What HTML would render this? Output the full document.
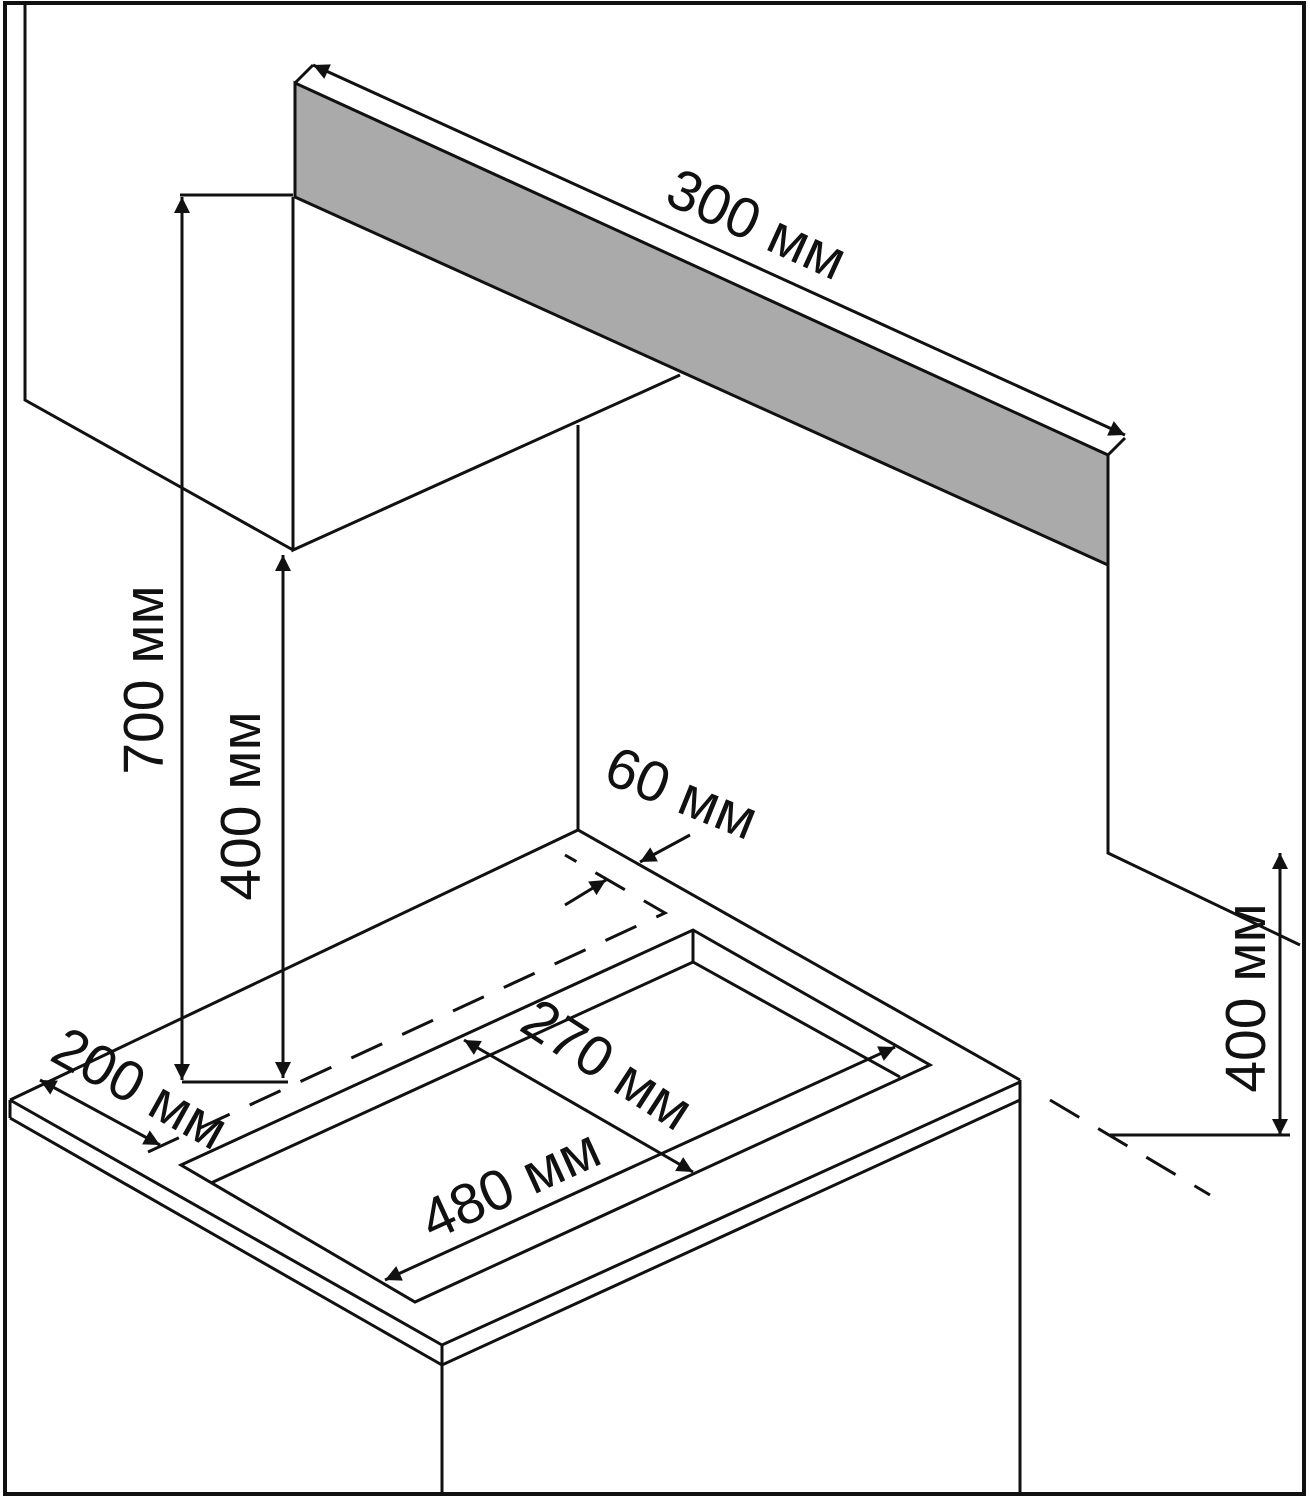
<!DOCTYPE html>
<html><head><meta charset="utf-8"><style>
html,body{margin:0;padding:0;background:#fff}
svg{display:block}
text{font-family:"Liberation Sans","DejaVu Sans",sans-serif;font-size:57px;fill:#111}
</style></head><body>
<svg width="1310" height="1500" viewBox="0 0 1310 1500" xmlns="http://www.w3.org/2000/svg">
<defs>
<marker id="b" viewBox="0 0 10 10" refX="10" refY="5" markerWidth="26" markerHeight="16" markerUnits="userSpaceOnUse" orient="auto-start-reverse">
<path d="M0,0 L10,5 L0,10 z" fill="#111"/></marker>
</defs>
<rect x="5" y="3" width="1299" height="1491" fill="none" stroke="#111" stroke-width="4"/>
<g stroke="#111" stroke-width="3" fill="none" stroke-linejoin="miter">
<polyline points="25,3 25,400 293,550"/>
<polyline points="293,197 293,550 680,375"/>
<line x1="578" y1="425" x2="578" y2="830"/>
<polygon points="295,83 1108,455 1108,565 295,197" fill="#aaaaaa"/>
<polyline points="295,83 313,65"/>
<line x1="1108" y1="455" x2="1125" y2="438"/>
<polyline points="1108,565 1108,853 1300,945"/>
<polyline points="10,1100 578,830 1020,1080"/>
<polyline points="10,1100 442,1345 1020,1082"/>
<polyline points="10,1118 442,1365 1020,1100"/>
<line x1="10" y1="1100" x2="10" y2="1118"/>
<line x1="442" y1="1345" x2="442" y2="1495"/>
<line x1="1020" y1="1080" x2="1020" y2="1495"/>
<polygon points="181,1165 693,930 930,1065 415,1302"/>
<polyline points="211,1183 693,962 900,1077"/>
<line x1="693" y1="930" x2="693" y2="962"/>
<g stroke-dasharray="34,22">
<polyline points="148,1152 665,913 565,855"/>
<line x1="1050" y1="1100" x2="1210" y2="1195"/>
</g>
<line x1="180" y1="195" x2="293" y2="195"/>
<line x1="182" y1="1082" x2="288" y2="1082"/>
<line x1="1110" y1="1135" x2="1290" y2="1135"/>
</g>
<g stroke="#111" stroke-width="3" fill="none">
<line x1="182" y1="197" x2="182" y2="1080" marker-start="url(#b)" marker-end="url(#b)"/>
<line x1="283" y1="555" x2="283" y2="1078" marker-start="url(#b)" marker-end="url(#b)"/>
<line x1="1280" y1="853" x2="1280" y2="1135" marker-start="url(#b)" marker-end="url(#b)"/>
<line x1="313" y1="65" x2="1125" y2="435" marker-start="url(#b)" marker-end="url(#b)"/>
<line x1="385" y1="1280" x2="895" y2="1047" marker-start="url(#b)" marker-end="url(#b)"/>
<line x1="464" y1="1040" x2="693" y2="1172" marker-start="url(#b)" marker-end="url(#b)"/>
<line x1="40" y1="1080" x2="160" y2="1145" marker-start="url(#b)" marker-end="url(#b)"/>
<line x1="690" y1="835" x2="640" y2="862" marker-end="url(#b)"/>
<line x1="565" y1="905" x2="606" y2="880" marker-end="url(#b)"/>
</g>
<text transform="translate(755,228) rotate(24.5)" text-anchor="middle" dominant-baseline="middle">300 мм</text>
<text transform="translate(148,680) rotate(-90)" text-anchor="middle" dominant-baseline="middle">700 мм</text>
<text transform="translate(245,806) rotate(-90)" text-anchor="middle" dominant-baseline="middle">400 мм</text>
<text transform="translate(1250,998) rotate(-90)" text-anchor="middle" dominant-baseline="middle">400 мм</text>
<text transform="translate(680,797) rotate(22)" text-anchor="middle" dominant-baseline="middle">60 мм</text>
<text transform="translate(605,1068) rotate(33)" text-anchor="middle" dominant-baseline="middle">270 мм</text>
<text transform="translate(512,1188) rotate(-24.5)" text-anchor="middle" dominant-baseline="middle">480 мм</text>
<text transform="translate(138,1092) rotate(29)" text-anchor="middle" dominant-baseline="middle">200 мм</text>
</svg>
</body></html>
